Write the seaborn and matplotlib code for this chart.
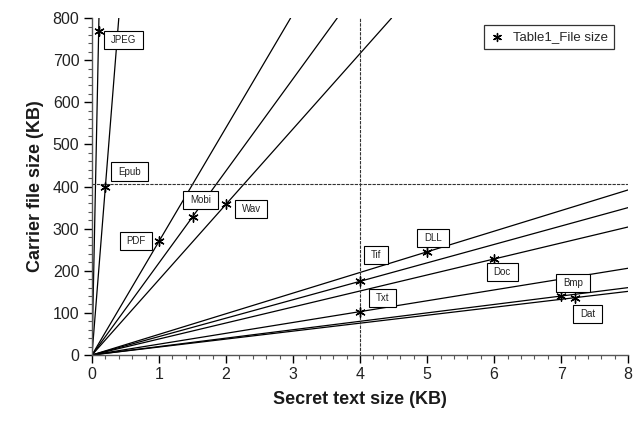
import matplotlib
matplotlib.use("Agg")
import matplotlib.pyplot as plt
import seaborn as sns
import pandas as pd
from matplotlib.path import Path
from matplotlib.ticker import MultipleLocator

# File types, secret text size (KB) and carrier file size (KB)
file_types = ["JPEG", "Epub", "PDF", "Mobi", "Wav", "Tif", "Txt", "DLL", "Doc", "Bmp", "Dat"]
secret_kb = [0.1, 0.2, 1.0, 1.5, 2.0, 4.0, 4.0, 5.0, 6.0, 7.0, 7.2]
carrier_kb = [770, 400, 270, 328, 358, 175, 103, 245, 228, 140, 136]

# Label box offsets (pixels) relative to each point
label_offsets = {
    "JPEG": (25, -9), "Epub": (24, 15), "PDF": (-23, 0), "Mobi": (8, 17),
    "Wav": (25, -5), "Tif": (16, 26), "Txt": (22, 14), "DLL": (6, 14),
    "Doc": (8, -13), "Bmp": (12, 13), "Dat": (13, -16),
}


class WideBox:
    """Square box with separate horizontal and vertical padding."""

    def __init__(self, padx=0.75, pady=0.3):
        self.padx, self.pady = padx, pady

    def __call__(self, x0, y0, width, height, mutation_size):
        px, py = self.padx * mutation_size, self.pady * mutation_size
        x0, y0 = x0 - px, y0 - py
        x1, y1 = x0 + width + 2 * px, y0 + height + 2 * py
        return Path([(x0, y0), (x1, y0), (x1, y1), (x0, y1), (x0, y0)],
                    closed=True)


df = pd.DataFrame({"type": file_types, "secret": secret_kb, "carrier": carrier_kb})

sns.set_style("ticks")
plt.rcParams["font.family"] = ["Liberation Sans", "DejaVu Sans"]

fig = plt.figure(figsize=(6.41, 4.21), dpi=100)
ax = fig.add_axes([0.1435, 0.1568, 0.8365, 0.8002])

x_max, y_max = 8, 800

# Ratio lines from the origin through each point
for _, row in df.iterrows():
    slope = row["carrier"] / row["secret"]
    x_end = min(x_max, y_max / slope)
    line = pd.DataFrame({"x": [0, x_end], "y": [0, slope * x_end]})
    sns.lineplot(data=line, x="x", y="y", ax=ax, color="black", lw=0.9,
                 estimator=None, sort=False)

# Reference lines
ax.axvline(4, color="#333333", lw=0.8, ls=(0, (3, 1)))
ax.axhline(405, color="#333333", lw=0.8, ls=(0, (3, 1)))

sns.scatterplot(data=df, x="secret", y="carrier", ax=ax, marker=(6, 2, 0),
                s=45, color="black", linewidth=1.0, zorder=5,
                label="Table1_File size")

for name, xv, yv in zip(file_types, secret_kb, carrier_kb):
    dx, dy = label_offsets[name]
    ax.annotate(name, (xv, yv), xytext=(dx, dy), textcoords="offset pixels",
                ha="center", va="center", fontsize=7, color="#222222",
                bbox=dict(boxstyle=WideBox(0.7, 0.42), fc="white", ec="black", lw=0.8),
                zorder=6)

ax.set_xlim(0, x_max)
ax.set_ylim(0, y_max)
ax.xaxis.set_major_locator(MultipleLocator(1))
ax.xaxis.set_minor_locator(MultipleLocator(0.2))
ax.yaxis.set_major_locator(MultipleLocator(100))
ax.yaxis.set_minor_locator(MultipleLocator(20))
ax.tick_params(which="major", direction="out", length=6, width=1, labelsize=11.5,
               color="black", labelcolor="#222222", pad=3)
ax.tick_params(which="minor", direction="out", length=3, width=0.8, color="#555555")
for s in ("top", "right"):
    ax.spines[s].set_visible(False)
for s in ("left", "bottom"):
    ax.spines[s].set_color("#555555")
    ax.spines[s].set_linewidth(1.0)

ax.set_xlabel("Secret text size (KB)", fontsize=13, fontweight="bold", color="#1a1a1a", labelpad=6)
ax.set_ylabel("Carrier file size (KB)", fontsize=13, fontweight="bold", color="#1a1a1a", labelpad=6)

leg = ax.legend(loc="upper right", bbox_to_anchor=(0.974, 0.979), borderaxespad=0,
                fontsize=9.5, frameon=True, fancybox=False, borderpad=0.45,
                handletextpad=0.6, handlelength=1.2, markerscale=0.85)
leg.get_frame().set_edgecolor("black")
leg.get_frame().set_linewidth(0.9)

fig.savefig("out.png", dpi=100)
